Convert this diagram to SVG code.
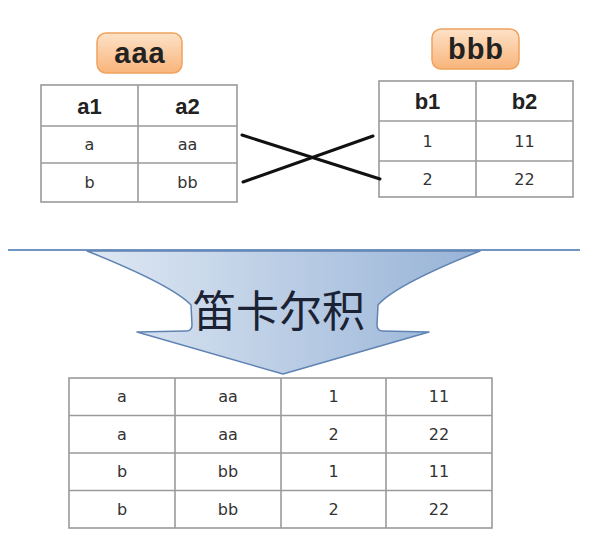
<svg xmlns="http://www.w3.org/2000/svg" width="599" height="547" viewBox="0 0 599 547">
<style>
.grid{fill:#fff;stroke:#9a9a9a;stroke-width:1.6}
.ln{stroke:#9a9a9a;stroke-width:1.6}
.hd{font-family:"Liberation Sans",Arial,sans-serif;font-weight:bold;font-size:22px;fill:#222;text-anchor:middle}
.td{font-family:"DejaVu Sans",Verdana,sans-serif;font-size:16px;fill:#333;text-anchor:middle}
.lbl{fill:url(#og);stroke:#f0a25e;stroke-width:1.5}
.lt{font-family:"Liberation Sans",Arial,sans-serif;font-weight:bold;font-size:29px;fill:#222;text-anchor:middle;letter-spacing:1px}
.x{stroke:#111;stroke-width:3;stroke-linecap:round}
</style>
<defs>
<linearGradient id="og" x1="0" y1="0" x2="0" y2="1">
<stop offset="0" stop-color="#fde2c8"/>
<stop offset="1" stop-color="#f9b47a"/>
</linearGradient>
<linearGradient id="bg" x1="0" y1="0" x2="1" y2="0">
<stop offset="0" stop-color="#dfe8f3"/>
<stop offset="1" stop-color="#97b3d7"/>
</linearGradient>
</defs>
<rect width="599" height="547" fill="#fff"/>

<g id="label-aaa">
<rect class="lbl" x="97" y="33" width="85" height="40" rx="9"/>
<text class="lt" x="140" y="63">aaa</text>
</g>
<g id="label-bbb">
<rect class="lbl" x="432" y="29" width="87" height="40" rx="9"/>
<text class="lt" x="476" y="59">bbb</text>
</g>

<g id="table-aaa">
<rect class="grid" x="41" y="85" width="196" height="117"/>
<line class="ln" x1="138" y1="85" x2="138" y2="202"/>
<line class="ln" x1="41" y1="126" x2="237" y2="126"/>
<line class="ln" x1="41" y1="163" x2="237" y2="163"/>
<text class="hd" x="89.5" y="114">a1</text>
<text class="hd" x="187.5" y="114">a2</text>
<text class="td" x="89.5" y="150">a</text>
<text class="td" x="187.5" y="150">aa</text>
<text class="td" x="89.5" y="188">b</text>
<text class="td" x="187.5" y="188">bb</text>
</g>

<g id="table-bbb">
<rect class="grid" x="379" y="81" width="194" height="116"/>
<line class="ln" x1="476" y1="81" x2="476" y2="197"/>
<line class="ln" x1="379" y1="121" x2="573" y2="121"/>
<line class="ln" x1="379" y1="161" x2="573" y2="161"/>
<text class="hd" x="427.5" y="109">b1</text>
<text class="hd" x="524.5" y="109">b2</text>
<text class="td" x="427.5" y="147">1</text>
<text class="td" x="524.5" y="147">11</text>
<text class="td" x="427.5" y="185">2</text>
<text class="td" x="524.5" y="185">22</text>
</g>

<g id="connectors">
<line class="x" x1="242" y1="135" x2="380" y2="179"/>
<line class="x" x1="243" y1="182" x2="373" y2="136"/>
</g>

<g id="arrow">
<line x1="8" y1="250" x2="580" y2="250" stroke="#7195c2" stroke-width="2"/>
<path d="M87,251 L480,251 Q395,285 378,305 L377,325 Q377,331 383,331 L429,332 L283,374 L137,332 L186,331 Q192,331 192,325 L191,305 Q172,285 87,251 Z" fill="url(#bg)" stroke="#5f83b3" stroke-width="1.5" stroke-linejoin="round"/>
<text x="279" y="327" font-family="'Noto Sans CJK SC',sans-serif" font-size="43" fill="#1a2233" text-anchor="middle">笛卡尔积</text>
</g>

<g id="table-result">
<rect class="grid" x="69" y="378" width="423" height="150"/>
<line class="ln" x1="175" y1="378" x2="175" y2="528"/>
<line class="ln" x1="281" y1="378" x2="281" y2="528"/>
<line class="ln" x1="386" y1="378" x2="386" y2="528"/>
<line class="ln" x1="69" y1="415.5" x2="492" y2="415.5"/>
<line class="ln" x1="69" y1="453" x2="492" y2="453"/>
<line class="ln" x1="69" y1="490.5" x2="492" y2="490.5"/>
<text class="td" x="122" y="402">a</text><text class="td" x="228" y="402">aa</text><text class="td" x="333.5" y="402">1</text><text class="td" x="439" y="402">11</text>
<text class="td" x="122" y="440">a</text><text class="td" x="228" y="440">aa</text><text class="td" x="333.5" y="440">2</text><text class="td" x="439" y="440">22</text>
<text class="td" x="122" y="477">b</text><text class="td" x="228" y="477">bb</text><text class="td" x="333.5" y="477">1</text><text class="td" x="439" y="477">11</text>
<text class="td" x="122" y="515">b</text><text class="td" x="228" y="515">bb</text><text class="td" x="333.5" y="515">2</text><text class="td" x="439" y="515">22</text>
</g>
</svg>
